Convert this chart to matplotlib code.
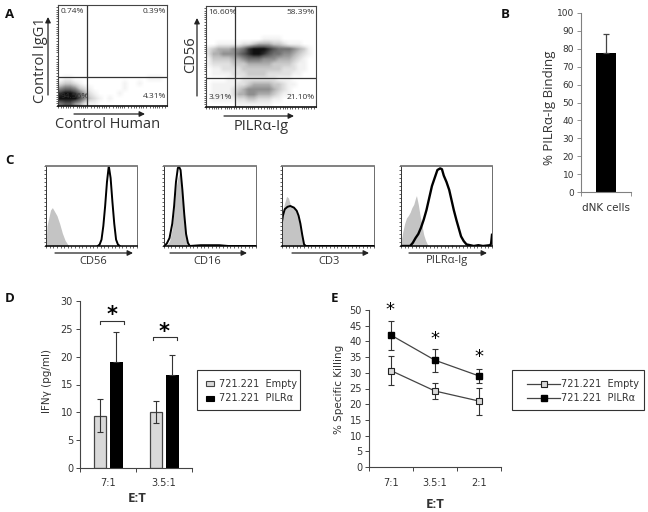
#!/usr/bin/env python
#
#   Multi panel figure - flow plots, histograms, bars and lines
#

import numpy as np
from matplotlib import pyplot as plt
from matplotlib.patches import Rectangle
from matplotlib.lines import Line2D

W, H = 648, 512
DARK = "#333333"
GREY = "#808080"
LIGHT = "#d9d9d9"
UI_FONT = "Open Sans"

# Panel A, dot density read by eye, rows top to bottom, 0-9
DENSITY_CONTROL = [
    "0000000000000000000000",
    "0000000000000000000000",
    "0000000000000000000000",
    "0000000000000000000000",
    "0000000000000000000000",
    "0000000000000000000000",
    "0000000000000000000000",
    "0000000000000000000000",
    "0000000000000000000000",
    "0000000000000000000000",
    "0000000000000000000000",
    "0000000000000000000000",
    "0000000000000000000000",
    "0000000000000000000000",
    "0110000000000000001110",
    "2332100000000100100000",
    "5665321000000100000000",
    "8998642100001000000000",
    "9999753210100000000000",
    "6775421100000000000000",
]
DENSITY_PILR = [
    "0000000000000000000000",
    "0000000000000000000000",
    "0000000000000000000000",
    "0000000000000000000000",
    "0000000000000000000000",
    "0000000000000000000000",
    "0000000000011110000000",
    "0011111223444332111000",
    "2344455689998766654310",
    "2445556789987665543210",
    "1333344566655544432100",
    "1222233344444333321100",
    "0112222333333332221100",
    "0111122233332222211000",
    "0000111222222211100000",
    "0111112234444332110000",
    "0111123455555432100000",
    "0111124455444321100000",
    "0111112233222110000000",
    "0000001111111000000000",
]

# Panel A, quadrant percentages
PCT_CONTROL = ["0.74%", "0.39%", "94.56%", "4.31%"]
PCT_PILR = ["16.60%", "58.39%", "3.91%", "21.10%"]

# Panel B
B_CATS = ["dNK cells"]
B_VALS = [77.5]
B_ERR = [10.5]

# Panel C, histograms: x and height, both in % of the plot
C_LABELS = ["CD56", "CD16", "CD3", "PILR\u03b1-Ig"]
C_GREY_X = [
    [0, 1, 3, 5, 7, 9, 12, 15, 18, 21, 25],
    [3, 6, 9, 11, 13, 15, 17, 19, 21, 23, 26, 28],
    [0, 2, 5, 7, 9, 13, 16, 18, 20, 22, 24, 26],
    [0, 2, 4, 6, 8, 10, 12, 14, 16, 17, 19, 21, 23, 25, 27, 29, 31, 54, 56, 58],
]
C_GREY_Y = [
    [0, 25, 35, 45, 48, 44, 38, 28, 16, 7, 0],
    [1, 6, 22, 45, 72, 85, 92, 70, 40, 15, 2, 0],
    [35, 50, 62, 60, 52, 47, 42, 36, 26, 12, 1, 0],
    [5, 18, 28, 35, 38, 42, 48, 52, 60, 63, 52, 38, 26, 14, 7, 2, 0, 0, 2, 0],
]
C_BLACK_X = [
    [57, 59, 61, 63, 65, 67, 69, 71, 73, 75, 77, 79, 81],
    [0, 3, 6, 9, 11, 13, 15, 16, 18, 20, 22, 24, 26, 28, 40, 50, 60, 70, 100],
    [0, 1, 3, 6, 9, 13, 16, 18, 20, 22, 24, 26, 100],
    [0, 10, 13, 16, 19, 22, 25, 28, 31, 34, 37, 40, 43, 45, 47, 50, 53, 56, 58,
     61, 63, 66, 69, 72, 76, 80, 85, 90, 98, 99, 100],
]
C_BLACK_Y = [
    [0, 2, 8, 25, 50, 80, 100, 85, 55, 28, 8, 2, 0],
    [0, 3, 10, 28, 50, 80, 97, 100, 95, 70, 40, 15, 4, 0, 1, 1, 1, 0, 0],
    [30, 38, 46, 49, 50, 48, 44, 38, 28, 14, 2, 0, 0],
    [0, 0, 4, 10, 15, 23, 33, 45, 60, 75, 85, 95, 97, 96, 88, 80, 70, 55, 45,
     32, 24, 12, 6, 2, 1, 0, 1, 0, 1, 3, 14],
]

# Panel D
D_CATS = ["7:1", "3.5:1"]
D_EMPTY = [9.4, 10.1]
D_PILR = [19.0, 16.7]
D_EMPTY_ERR = [3.0, 2.0]
D_PILR_ERR = [5.5, 3.6]

# Panel E
E_CATS = ["7:1", "3.5:1", "2:1"]
E_EMPTY = [30.7, 24.2, 21.0]
E_PILR = [42.0, 34.0, 29.0]
E_EMPTY_ERR = [4.7, 2.5, 4.3]
E_PILR_ERR = [4.6, 3.6, 2.2]

fig = plt.figure(figsize=(W / 100, H / 100), dpi=100)


def pixel_axes(x0, y0, x1, y1):
    return fig.add_axes([x0 / W, 1 - y1 / H, (x1 - x0) / W, (y1 - y0) / H])


# overlay in pixel coordinates for the hand placed labels and arrows
over = fig.add_axes([0, 0, 1, 1], zorder=10)
over.set_xlim(0, W)
over.set_ylim(H, 0)
over.axis("off")


def label(x, y, s, size=9, ha="center", rot=0, color=DARK, weight="normal", family=UI_FONT):
    over.text(x, y, s, fontsize=size, ha=ha, va="center", rotation=rot,
              color=color, fontweight=weight, family=family)


def arrow(x0, y0, x1, y1):
    over.annotate("", xy=(x1, y1), xytext=(x0, y0),
                  arrowprops=dict(arrowstyle="-|>", color="#222222", lw=0.9,
                                  shrinkA=0, shrinkB=0, mutation_scale=8))


def flow_ticks(ax):
    ticks = [0, 3, 5, 7, 9, 11, 14, 17, 19, 21, 23, 25, 27, 30, 33, 36, 38, 40, 42, 44,
             47, 50, 53, 55, 57, 59, 61, 64, 67, 70, 72, 74, 76, 78, 81, 84, 87, 89, 91, 93, 95, 98]
    ax.set_xticks(ticks)
    ax.set_yticks(ticks)
    ax.set_xticklabels([])
    ax.set_yticklabels([])
    ax.tick_params(length=1.5, width=0.5, color="#222222", direction="out", pad=1)


def flow_plot(x0, y0, x1, y1, density, vline, hline, pct):
    ax = pixel_axes(x0, y0, x1, y1)
    grid = np.array([[int(c) for c in row] for row in density], dtype=float)
    ax.imshow(grid, cmap="Greys", vmin=0, vmax=9.5, extent=(0, 100, 0, 100),
              aspect="auto", interpolation="bilinear")
    ax.axvline(vline, color="#333333", lw=0.9)
    ax.axhline(hline, color="#333333", lw=0.9)
    flow_ticks(ax)
    for s in ax.spines.values():
        s.set_color("#444444")
        s.set_linewidth(0.8)
    ax.spines["bottom"].set_linewidth(1.2)
    ax.spines["bottom"].set_color("#111111")
    ax.text(2, 94, pct[0], fontsize=6, color=DARK, va="center", family=UI_FONT)
    ax.text(99, 94, pct[1], fontsize=6, color=DARK, va="center", ha="right", family=UI_FONT)
    ax.text(2, 9, pct[2], fontsize=6, color=DARK, va="center", family=UI_FONT)
    ax.text(99, 9, pct[3], fontsize=6, color=DARK, va="center", ha="right", family=UI_FONT)


# Panel A
flow_plot(58, 5, 167, 106, DENSITY_CONTROL, 27, 29, PCT_CONTROL)
flow_plot(206, 6, 316, 107, DENSITY_PILR, 26.5, 29, PCT_PILR)
arrow(48, 95, 48, 17)
arrow(74, 114, 145, 114)
arrow(197, 96, 197, 18)
arrow(224, 116, 294, 116)
label(41, 60, "Control IgG1", size=10.5, rot=90)
label(108, 124, "Control Human", size=10.5)
label(191, 55, "CD56", size=10.5, rot=90)
label(261, 126, "PILR\u03b1-Ig", size=10.5)

# Panel B
ax = pixel_axes(581, 13, 631, 192)
ax.bar([0], B_VALS, width=0.39, color="black", yerr=[[0], B_ERR],
       error_kw=dict(ecolor="#444444", elinewidth=0.9, capsize=2.5, capthick=0.9))
ax.set_xlim(-0.5, 0.5)
ax.set_ylim(0, 100)
ax.set_yticks(range(0, 101, 10))
ax.set_xticks([-0.5, 0.5])
ax.set_xticklabels([])
ax.tick_params(colors=DARK, labelsize=6.5, length=3, width=0.6, color=GREY, pad=2)
for lab in ax.get_yticklabels():
    lab.set_family("DejaVu Sans")
ax.spines[["top", "right"]].set_visible(False)
ax.spines[["left", "bottom"]].set_color(GREY)
label(606, 208, B_CATS[0], size=7.5, family="DejaVu Sans")
label(549, 108, "% PILR\u03b1-Ig Binding", size=9.5, rot=90)

# Panel C
C_BOXES = [(46, 137), (164, 256), (282, 374), (401, 492)]
C_ARROWS = [(55, 133), (170, 247), (292, 369), (409, 487)]
for i, (x0, x1) in enumerate(C_BOXES):
    ax = pixel_axes(x0, 166, x1, 246)
    ax.fill_between(C_GREY_X[i], C_GREY_Y[i], color="#c4c4c4", lw=0)
    ax.plot(C_BLACK_X[i], C_BLACK_Y[i], color="black", lw=1.4 if i < 3 else 1.7)
    ax.set_xlim(0, 100)
    ax.set_ylim(0, 100)
    ax.set_xticks(range(0, 101, 4))
    ax.set_yticks(range(0, 101, 5))
    ax.set_xticklabels([])
    ax.set_yticklabels([])
    ax.tick_params(length=1.5, width=0.5, color="#222222", pad=1)
    ax.spines["top"].set_color("#777777")
    ax.spines["top"].set_linewidth(1.3)
    ax.spines["right"].set_color("#555555")
    ax.spines["right"].set_linewidth(0.6)
    ax.spines["left"].set_color("#333333")
    ax.spines["left"].set_linewidth(0.7)
    ax.spines["bottom"].set_linewidth(1.1)
    arrow(C_ARROWS[i][0], 253, C_ARROWS[i][1], 253)
    label((C_ARROWS[i][0] + C_ARROWS[i][1]) / 2 - 1, 261, C_LABELS[i], size=8)

# Panel D
ax = pixel_axes(80, 301, 192, 468)
xs = np.arange(len(D_CATS))
err_style = dict(ecolor="#333333", elinewidth=0.8, capsize=2, capthick=0.8)
ax.bar(xs - 0.145, D_EMPTY, width=0.225, color=LIGHT, edgecolor="#444444", linewidth=0.9,
       yerr=D_EMPTY_ERR, error_kw=err_style)
ax.bar(xs + 0.15, D_PILR, width=0.225, color="black",
       yerr=[[0, 0], D_PILR_ERR], error_kw=err_style)
ax.set_xlim(-0.5, 1.5)
ax.set_ylim(0, 30)
ax.set_yticks(range(0, 31, 5))
ax.set_xticks([-0.5, 0.5, 1.5])
ax.set_xticklabels([])
for x, s in zip(xs, D_CATS):
    ax.text(x, -2.7, s, fontsize=7, ha="center", va="center", color=DARK)
ax.tick_params(colors=DARK, labelsize=7, length=3, width=0.7, color="#444444", pad=2)
ax.spines[["top", "right"]].set_visible(False)
ax.spines[["left", "bottom"]].set_color("#444444")
label(47, 381, "IFN\u03b3 (pg/ml)", size=7.5, rot=90, family="DejaVu Sans")
label(137, 498, "E:T", size=9.5, weight="bold")
for x0, x1, y in [(100, 124, 321), (152.5, 176.5, 337)]:
    over.plot([x0, x0, x1, x1], [y + 3, y, y, y + 3], color="#333333", lw=0.8)
label(112, 315, "*", size=15, color="black", weight="bold", family="DejaVu Sans")
label(164, 332, "*", size=15, color="black", weight="bold", family="DejaVu Sans")

# legend D
over.add_patch(Rectangle((197, 370), 103, 40, fc="white", ec="#333333", lw=0.8))
over.add_patch(Rectangle((206, 381), 8, 5, fc=LIGHT, ec="#444444", lw=0.8))
over.add_patch(Rectangle((206, 396), 8, 5, fc="black", ec="black", lw=0.8))
label(219, 384, "721.221  Empty", size=7, ha="left", family="DejaVu Sans")
label(219, 398, "721.221  PILR\u03b1", size=7, ha="left", family="DejaVu Sans")

# Panel E
ax = pixel_axes(369, 310, 501, 467)
xs = np.arange(len(E_CATS))
line_err = dict(elinewidth=0.8, capsize=2, capthick=0.8, ecolor="#333333")
ax.errorbar(xs, E_EMPTY, yerr=E_EMPTY_ERR, color="#444444", lw=0.9, marker="s", ms=4.5,
            mfc=LIGHT, mec="#222222", mew=0.8, **line_err)
ax.errorbar(xs, E_PILR, yerr=E_PILR_ERR, color="#444444", lw=0.9, marker="s", ms=4.5,
            mfc="black", mec="black", **line_err)
ax.set_xlim(-0.5, 2.5)
ax.set_ylim(0, 50)
ax.set_yticks(range(0, 51, 5))
ax.set_xticks([-0.5, 0.5, 1.5, 2.5])
ax.set_xticklabels([])
for x, s in zip(xs, E_CATS):
    ax.text(x, -5.2, s, fontsize=7, ha="center", va="center", color=DARK)
ax.tick_params(colors=DARK, labelsize=7, length=3, width=0.7, color="#444444", pad=2)
ax.spines[["top", "right"]].set_visible(False)
ax.spines[["left", "bottom"]].set_color("#444444")
label(339, 389, "% Specific Killing", size=7.5, rot=90, family="DejaVu Sans")
label(435, 504, "E:T", size=9.5, weight="bold")
for x, y in [(390, 310), (435, 339), (479, 357)]:
    label(x, y, "*", size=13, color="black", family="DejaVu Sans")

# legend E
over.add_patch(Rectangle((512, 370), 132, 40, fc="white", ec="#333333", lw=0.8))
over.add_line(Line2D([527, 560], [384, 384], color="#444444", lw=0.9, marker="s", ms=4.5,
                     mfc=LIGHT, mec="#222222", markevery=[], zorder=3))
over.add_line(Line2D([543.5], [384], marker="s", ms=5, mfc=LIGHT, mec="#222222", mew=0.8, zorder=4))
over.add_line(Line2D([527, 560], [398, 398], color="#444444", lw=0.9, zorder=3))
over.add_line(Line2D([543.5], [398], marker="s", ms=5, mfc="black", mec="black", zorder=4))
label(561, 384, "721.221  Empty", size=7, ha="left", family="DejaVu Sans")
label(561, 398, "721.221  PILR\u03b1", size=7, ha="left", family="DejaVu Sans")

# panel letters
for x, y, s in [(10, 15, "A"), (505, 15, "B"), (10, 161, "C"), (10, 298, "D"), (335, 298, "E")]:
    label(x, y, s, size=9.5, weight="bold", color="#111111")

fig.savefig("out.png", dpi=100)
